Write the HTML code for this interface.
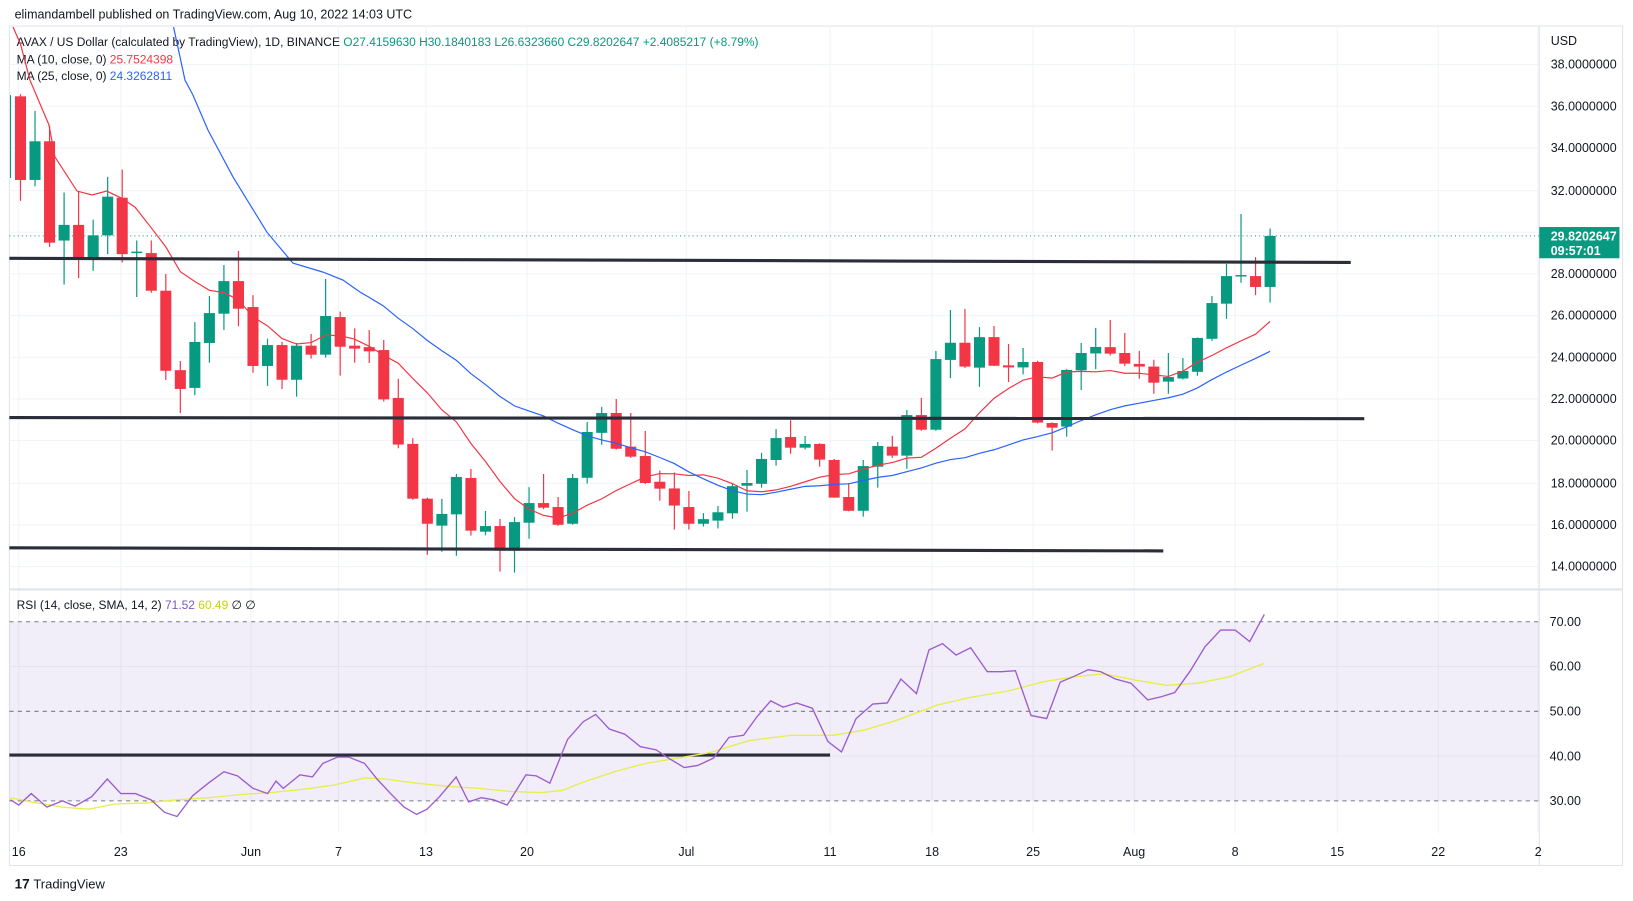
<!DOCTYPE html>
<html><head><meta charset="utf-8"><style>
html,body{margin:0;padding:0;background:#fff;}
svg{display:block;font-family:"Liberation Sans",sans-serif;}
.w{fill:none;stroke-width:1.2;vector-effect:non-scaling-stroke;}
</style></head><body>
<svg width="1633" height="901" viewBox="0 0 1633 901" xmlns="http://www.w3.org/2000/svg">
<defs><clipPath id="cp"><rect x="10" y="27" width="1529" height="562"/></clipPath></defs>
<g transform="scale(1.04145)">
  <rect x="9" y="25" width="1549" height="806" fill="none" stroke="#e0e3eb" stroke-width="1"/>
  <g stroke="#f0f3fa" stroke-width="1">
    <line x1="9" x2="1478" y1="62" y2="62"/><line x1="9" x2="1478" y1="102" y2="102"/><line x1="9" x2="1478" y1="142" y2="142"/><line x1="9" x2="1478" y1="183" y2="183"/><line x1="9" x2="1478" y1="223" y2="223"/><line x1="9" x2="1478" y1="263" y2="263"/><line x1="9" x2="1478" y1="303" y2="303"/><line x1="9" x2="1478" y1="343" y2="343"/><line x1="9" x2="1478" y1="383" y2="383"/><line x1="9" x2="1478" y1="423" y2="423"/><line x1="9" x2="1478" y1="464" y2="464"/><line x1="9" x2="1478" y1="504" y2="504"/><line x1="9" x2="1478" y1="544" y2="544"/>
    <line x1="9" x2="1478" y1="640" y2="640"/><line x1="9" x2="1478" y1="726" y2="726"/>
    <line x1="18" x2="18" y1="25" y2="800"/><line x1="116" x2="116" y1="25" y2="800"/><line x1="241" x2="241" y1="25" y2="800"/><line x1="325" x2="325" y1="25" y2="800"/><line x1="409" x2="409" y1="25" y2="800"/><line x1="506" x2="506" y1="25" y2="800"/><line x1="659" x2="659" y1="25" y2="800"/><line x1="797" x2="797" y1="25" y2="800"/><line x1="895" x2="895" y1="25" y2="800"/><line x1="992" x2="992" y1="25" y2="800"/><line x1="1089" x2="1089" y1="25" y2="800"/><line x1="1186" x2="1186" y1="25" y2="800"/><line x1="1284" x2="1284" y1="25" y2="800"/><line x1="1381" x2="1381" y1="25" y2="800"/><line x1="1477" x2="1477" y1="25" y2="800"/>
  </g>
  <rect x="9" y="597" width="1469" height="172" fill="#7e57c2" fill-opacity="0.1"/>
  <line x1="9" y1="597" x2="1478" y2="597" stroke="#787b86" stroke-dasharray="4,4"/>
  <line x1="9" y1="683" x2="1478" y2="683" stroke="#787b86" stroke-dasharray="4,4"/>
  <line x1="9" y1="769" x2="1478" y2="769" stroke="#787b86" stroke-dasharray="4,4"/>
  <line x1="1478" y1="25" x2="1478" y2="831" stroke="#e0e3eb"/>
  <line x1="9" y1="566" x2="1558" y2="566" stroke="#e0e3eb" stroke-width="2"/>
  <line x1="9" y1="226.5" x2="1478" y2="226.5" stroke="#089981" stroke-dasharray="1,3"/>
  <g font-size="12" fill="#131722">
    <text x="14" y="18">elimandambell published on TradingView.com, Aug 10, 2022 14:03 UTC</text>
    <text x="16" y="44" font-size="11.5">AVAX / US Dollar (calculated by TradingView), 1D, BINANCE <tspan fill="#089981">O27.4159630 H30.1840183 L26.6323660 C29.8202647 +2.4085217 (+8.79%)</tspan></text>
    <text x="16" y="61" font-size="11.5">MA (10, close, 0) <tspan fill="#f23645">25.7524398</tspan></text>
    <text x="16" y="77" font-size="11.5">MA (25, close, 0) <tspan fill="#2962ff">24.3262811</tspan></text>
    <text x="16" y="585" font-size="11.5">RSI (14, close, SMA, 14, 2) <tspan fill="#7e57c2">71.52</tspan> <tspan fill="#c8d400">60.49</tspan> ∅ ∅</text>
    <text x="1489" y="43">USD</text>
    <text x="1489" y="66">38.0000000</text><text x="1489" y="106">36.0000000</text><text x="1489" y="146">34.0000000</text><text x="1489" y="187">32.0000000</text><text x="1489" y="267">28.0000000</text><text x="1489" y="307">26.0000000</text><text x="1489" y="347">24.0000000</text><text x="1489" y="387">22.0000000</text><text x="1489" y="427">20.0000000</text><text x="1489" y="468">18.0000000</text><text x="1489" y="508">16.0000000</text><text x="1489" y="548">14.0000000</text>
    <g text-anchor="middle">
    <text x="18" y="822">16</text><text x="116" y="822">23</text><text x="241" y="822">Jun</text><text x="325" y="822">7</text><text x="409" y="822">13</text><text x="506" y="822">20</text><text x="659" y="822">Jul</text><text x="797" y="822">11</text><text x="895" y="822">18</text><text x="992" y="822">25</text><text x="1089" y="822">Aug</text><text x="1186" y="822">8</text><text x="1284" y="822">15</text><text x="1381" y="822">22</text><text x="1477" y="822">2</text>
    </g>
    <text x="1488" y="601">70.00</text><text x="1488" y="644">60.00</text><text x="1488" y="687">50.00</text><text x="1488" y="730">40.00</text><text x="1488" y="773">30.00</text>
  </g>
  <rect x="1478" y="218" width="77" height="30" fill="#089981"/>
  <text x="1489" y="231" font-size="12" font-weight="bold" fill="#fff">29.8202647</text>
  <text x="1489" y="245" font-size="12" font-weight="bold" fill="#fff">09:57:01</text>
  <text x="14" y="853" font-size="13" font-weight="bold" fill="#131722">17</text>
  <text x="32" y="853" font-size="12.5" fill="#131722">TradingView</text>
</g>
<g clip-path="url(#cp)">
<g transform="translate(20.5,859.2) scale(14.53,-20.9)">
<path class="w" stroke="#089981" d="M-0.69 32.59V36.56M1 32.2V35.8M3 27.5V31.9M5 28.15V30.6M6 28.95V32.65M8 26.9V29.6M12 22.2V25.7M13 23.76V26.95M14 25.32V28.43M17 22.65V24.9M19 22.13V24.7M21 24V27.76M29 14.71V17.24M30 14.52V18.43M32 15.5V16.66M34 13.71V16.37M35 15.33V17.8M38 16V18.43M39 17.97V20.92M40 19.83V21.64M47 15.92V16.56M48 15.82V16.9M49 16.29V18M50 16.63V18.62M51 17.78V19.44M52 18.83V20.58M54 19.6V20.25M58 16.39V19.1M59 17.78V19.96M61 18.68V21.49M63 20.5V24.32M64 23.02V26.28M66 22.6V25.46M69 23.2V24.46M72 20.22V23.45M73 22.45V24.7M74 23.45V25.42M79 22.27V24.22M80 22.95V23.98M81 23.13V24.96M82 24.8V26.95M83 25.86V28.48M84 27.58V30.87M86 26.63V30.18"/>
<path class="w" stroke="#f23645" d="M0 31.5V36.6M2 29.3V35.1M4 27.8V31.95M7 28.55V33M9 27.1V29.6M10 22.93V28M11 21.35V23.84M15 25.5V29.1M16 23.28V26.99M18 22.5V24.75M20 23.95V25.13M22 23.14V26.2M23 23.76V25.4M24 23.74V25.32M25 21.9V24.84M26 19.66V22.98M27 17.2V20.15M28 14.56V17.3M31 15.48V18.67M33 13.76V16.28M36 16.75V18.43M37 15.95V17.33M41 19.6V22.02M42 19.2V21.35M43 17.95V20.49M44 17.15V18.59M45 15.77V18.5M46 15.77V17.62M53 19.4V21M55 18.78V19.9M56 17.3V19.15M57 16.65V18M60 19.2V20.26M62 20.5V22.07M65 23.5V26.33M67 23.6V25.51M68 22.83V24.65M70 20.85V23.85M71 19.55V20.9M75 24.1V25.8M76 23.6V25.18M77 22.99V24.32M78 22.27V23.9M85 26.99V28.81"/>
<g fill="#089981">
<rect x="0.62" y="32.5" width="0.76" height="1.85"/><rect x="2.62" y="29.6" width="0.76" height="0.75"/><rect x="4.62" y="28.7" width="0.76" height="1.15"/><rect x="5.62" y="29.85" width="0.76" height="1.85"/><rect x="7.62" y="29.0" width="0.76" height="0.07"/><rect x="11.62" y="22.55" width="0.76" height="2.2"/><rect x="12.62" y="24.7" width="0.76" height="1.43"/><rect x="13.62" y="26.1" width="0.76" height="1.56"/><rect x="16.62" y="23.6" width="0.76" height="1.0"/><rect x="18.62" y="22.94" width="0.76" height="1.63"/><rect x="20.62" y="24.14" width="0.76" height="1.85"/><rect x="28.62" y="15.96" width="0.76" height="0.56"/><rect x="29.62" y="16.5" width="0.76" height="1.79"/><rect x="31.62" y="15.67" width="0.76" height="0.27"/><rect x="33.62" y="14.76" width="0.76" height="1.37"/><rect x="34.62" y="16.1" width="0.76" height="0.94"/><rect x="37.62" y="16.05" width="0.76" height="2.19"/><rect x="38.62" y="18.25" width="0.76" height="2.19"/><rect x="39.62" y="20.4" width="0.76" height="0.95"/><rect x="46.62" y="16.05" width="0.76" height="0.22"/><rect x="47.62" y="16.2" width="0.76" height="0.4"/><rect x="48.62" y="16.55" width="0.76" height="1.3"/><rect x="49.62" y="17.87" width="0.76" height="0.13"/><rect x="50.62" y="17.96" width="0.76" height="1.19"/><rect x="51.62" y="19.1" width="0.76" height="1.05"/><rect x="53.62" y="19.69" width="0.76" height="0.18"/><rect x="57.62" y="16.67" width="0.76" height="2.14"/><rect x="58.62" y="18.78" width="0.76" height="0.99"/><rect x="60.62" y="19.31" width="0.76" height="1.94"/><rect x="62.62" y="20.55" width="0.76" height="3.38"/><rect x="63.62" y="23.89" width="0.76" height="0.82"/><rect x="65.62" y="23.52" width="0.76" height="1.46"/><rect x="68.62" y="23.53" width="0.76" height="0.26"/><rect x="71.62" y="20.7" width="0.76" height="2.71"/><rect x="72.62" y="23.39" width="0.76" height="0.83"/><rect x="73.62" y="24.2" width="0.76" height="0.31"/><rect x="78.62" y="22.85" width="0.76" height="0.22"/><rect x="79.62" y="23.0" width="0.76" height="0.36"/><rect x="80.62" y="23.32" width="0.76" height="1.62"/><rect x="81.62" y="24.9" width="0.76" height="1.71"/><rect x="82.62" y="26.58" width="0.76" height="1.32"/><rect x="83.62" y="27.88" width="0.76" height="0.07"/><rect x="85.62" y="27.38" width="0.76" height="2.44"/>
</g>
<g fill="#f23645">
<rect x="-0.38" y="32.5" width="0.76" height="4.0"/><rect x="1.62" y="29.5" width="0.76" height="4.85"/><rect x="3.62" y="28.7" width="0.76" height="1.65"/><rect x="6.62" y="28.95" width="0.76" height="2.7"/><rect x="8.62" y="27.2" width="0.76" height="1.8"/><rect x="9.62" y="23.37" width="0.76" height="3.83"/><rect x="10.62" y="22.5" width="0.76" height="0.9"/><rect x="14.62" y="26.34" width="0.76" height="1.32"/><rect x="15.62" y="23.6" width="0.76" height="2.82"/><rect x="17.62" y="22.94" width="0.76" height="1.66"/><rect x="19.62" y="24.14" width="0.76" height="0.43"/><rect x="21.62" y="24.52" width="0.76" height="1.42"/><rect x="22.62" y="24.43" width="0.76" height="0.14"/><rect x="23.62" y="24.3" width="0.76" height="0.2"/><rect x="24.62" y="22.0" width="0.76" height="2.36"/><rect x="25.62" y="19.84" width="0.76" height="2.23"/><rect x="26.62" y="17.25" width="0.76" height="2.62"/><rect x="27.62" y="16.05" width="0.76" height="1.2"/><rect x="30.62" y="15.72" width="0.76" height="2.52"/><rect x="32.62" y="14.76" width="0.76" height="1.18"/><rect x="35.62" y="16.82" width="0.76" height="0.22"/><rect x="36.62" y="16.0" width="0.76" height="0.85"/><rect x="40.62" y="19.64" width="0.76" height="1.71"/><rect x="41.62" y="19.26" width="0.76" height="0.48"/><rect x="42.62" y="18.0" width="0.76" height="1.29"/><rect x="43.62" y="17.73" width="0.76" height="0.33"/><rect x="44.62" y="16.92" width="0.76" height="0.82"/><rect x="45.62" y="16.05" width="0.76" height="0.8"/><rect x="52.62" y="19.69" width="0.76" height="0.51"/><rect x="54.62" y="19.12" width="0.76" height="0.75"/><rect x="55.62" y="17.3" width="0.76" height="1.8"/><rect x="56.62" y="16.67" width="0.76" height="0.66"/><rect x="59.62" y="19.31" width="0.76" height="0.43"/><rect x="61.62" y="20.55" width="0.76" height="0.7"/><rect x="64.62" y="23.57" width="0.76" height="1.14"/><rect x="66.62" y="23.61" width="0.76" height="1.37"/><rect x="67.62" y="23.53" width="0.76" height="0.1"/><rect x="69.62" y="20.89" width="0.76" height="2.9"/><rect x="70.62" y="20.65" width="0.76" height="0.22"/><rect x="74.62" y="24.19" width="0.76" height="0.31"/><rect x="75.62" y="23.71" width="0.76" height="0.51"/><rect x="76.62" y="23.57" width="0.76" height="0.13"/><rect x="77.62" y="22.8" width="0.76" height="0.77"/><rect x="84.62" y="27.38" width="0.76" height="0.52"/>
</g>
<polyline class="w" stroke="#f23645" points="-0.72,40.15 0,39 0.65,37.28 1.96,35.13 2.37,33.6 3.89,31.97 4.92,31.78 5.93,31.97 6.92,31.64 7.88,31.2 9,30.21 10,29.3 11,28.11 12,27.64 13,27.22 14,27.11 15,26.76 16,25.95 17,25.52 18,24.91 19,24.65 20,24.72 21,25.07 22,25.05 23,24.88 24,24.54 25,24.11 26,23.73 27,23 28,22.31 29,21.5 30,20.92 31,19.89 32,19.03 33,18.07 34,17.25 35,16.75 36,16.45 37,16.33 38,16.55 39,16.94 40,17.24 41,17.64 42,17.97 43,18.29 44,18.45 45,18.44 46,18.36 47,18.39 48,18.23 49,17.97 50,17.63 51,17.58 52,17.67 53,17.84 54,18.06 55,18.28 56,18.4 57,18.44 58,18.66 59,18.85 60,18.98 61,19.19 62,19.23 63,19.66 64,20.14 65,20.59 66,21.36 67,22.05 68,22.52 69,22.92 70,23.08 71,23.02 72,23.31 73,23.34 74,23.32 75,23.38 76,23.25 77,23.25 78,23.17 79,23.1 80,23.35 81,23.78 82,24.1 83,24.47 84,24.8 85,25.12 86,25.73"/>
<polyline class="w" stroke="#2962ff" points="10.43,40.15 11.32,37.28 11.87,36.56 12.9,34.89 14.63,32.64 16.96,30 18.75,28.52 20.82,28.09 22.19,27.71 23.36,27.14 24,26.88 25,26.46 26,25.88 27,25.39 28,24.82 29,24.33 30,23.87 31,23.23 32,22.71 33,22.14 34,21.69 35,21.44 36,21.21 37,20.86 38,20.55 39,20.26 40,20.06 41,19.9 42,19.69 43,19.49 44,19.22 45,18.93 46,18.53 47,18.2 48,17.89 49,17.63 50,17.47 51,17.44 52,17.56 53,17.7 54,17.84 55,17.87 56,17.93 57,17.96 58,18.12 59,18.27 60,18.36 61,18.54 62,18.72 63,18.95 64,19.12 65,19.21 66,19.42 67,19.59 68,19.82 69,20.06 70,20.22 71,20.4 72,20.69 73,20.99 74,21.26 75,21.51 76,21.69 77,21.82 78,21.95 79,22.08 80,22.25 81,22.55 82,22.95 83,23.31 84,23.64 85,23.96 86,24.3"/>
</g>
</g>
<g transform="scale(1.04145)">
  <g stroke="#2a2e39" stroke-width="3">
    <line x1="9" y1="248" x2="1297" y2="252"/>
    <line x1="9" y1="401" x2="1310" y2="402"/>
    <line x1="9" y1="526" x2="1117" y2="529"/>
    <line x1="9" y1="725" x2="797" y2="725"/>
  </g>
  <polyline fill="none" stroke="#e6ee4a" stroke-width="1.3" points="10,766 30,770 60,775 85,777 110,772 140,771 170,768 200,766 230,763 260,761 290,758 320,754 350,747 370,748 400,752 430,755 460,757 490,760 520,761 540,759 560,751 590,741 620,733 650,728 680,723 720,711 760,706 800,706 830,701 860,692 900,677 930,670 970,663 1000,655 1030,650 1060,647 1090,653 1120,658 1150,656 1180,650 1214,637"/>
  <polyline fill="none" stroke="#9c5ccf" stroke-width="1.3" points="10,768 18,773 30,762 45,775 60,769 72,774 88,765 103,748 116,762 130,762 145,768 158,780 170,784 185,764 200,752 215,741 228,745 243,757 257,762 265,750 272,757 288,744 300,746 310,733 324,727 335,727 350,733 362,748 375,762 388,775 400,782 410,777 422,765 438,746 450,770 462,766 474,768 487,773 505,744 515,745 528,752 545,710 560,693 572,686 585,700 600,705 615,717 630,720 642,728 657,737 670,735 685,728 700,708 714,706 727,688 740,673 752,679 765,675 780,680 795,712 808,722 822,690 838,676 852,675 865,652 880,666 892,624 905,618 918,629 932,622 948,645 962,645 975,644 990,687 1005,690 1018,655 1030,650 1045,643 1057,645 1071,652 1086,656 1102,672 1115,669 1128,665 1143,644 1157,621 1172,605 1186,605 1200,616 1214,590"/>
</g>
</svg>
</body></html>
